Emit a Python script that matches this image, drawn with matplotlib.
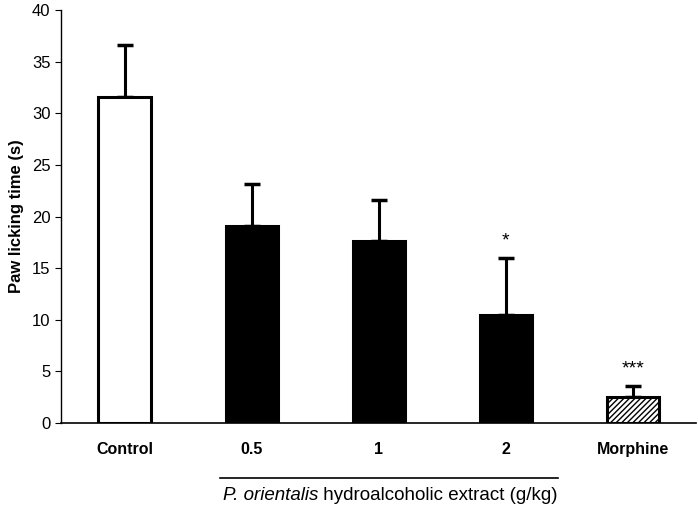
import matplotlib
matplotlib.use("Agg")
import matplotlib.pyplot as plt

categories = ["Control", "0.5", "1", "2", "Morphine"]
means = [31.6, 19.1, 17.6, 10.5, 2.5]
sems = [5.0, 4.1, 4.0, 5.5, 1.1]
signif = ["", "", "", "*", "***"]
yticks = [0, 5, 10, 15, 20, 25, 30, 35, 40]

plt.rcParams['font.family'] = ['Liberation Sans', 'DejaVu Sans']
plt.rcParams['hatch.linewidth'] = 1.0

fig = plt.figure(figsize=(6.98, 5.12), dpi=100)
ax = fig.add_axes([0.0874, 0.174, 0.910, 0.806])

x = list(range(len(categories)))
faces = ["white", "black", "black", "black", "white"]
hatches = [None, None, None, None, "//////"]
for xi, m, s, fc, h in zip(x, means, sems, faces, hatches):
    ax.bar(xi, m, width=0.41, color=fc, edgecolor="black", linewidth=2.2, hatch=h, zorder=2)
    ax.errorbar(xi, m, yerr=[[0], [s]], fmt="none", ecolor="black", elinewidth=2.2,
                capsize=6, capthick=2.5, zorder=1)

for xi, m, s, t in zip(x, means, sems, signif):
    if t:
        ax.text(xi, m + s + 0.8, t, ha="center", va="bottom", fontsize=14)

ax.set_xlim(-0.5, 4.5)
ax.set_ylim(0, 40)
ax.set_yticks(yticks)
ax.set_yticklabels([str(v) for v in yticks], fontsize=12)
ax.set_xticks(x)
ax.set_xticklabels(categories, fontsize=11.5, fontweight="bold")
ax.tick_params(axis="x", length=0, pad=14)
ax.tick_params(axis="y", length=4, direction="out")
for sp in ["top", "right"]:
    ax.spines[sp].set_visible(False)
ax.spines["left"].set_linewidth(1.0)
ax.spines["bottom"].set_linewidth(1.2)
ax.set_ylabel("Paw licking time (s)", fontsize=12, fontweight="bold", labelpad=6)

# group line and label
fig.add_artist(plt.Line2D([220/698, 558/698], [1-478/512, 1-478/512], color="black", linewidth=1.2))

part1 = "P. orientalis"
part2 = " hydroalcoholic extract (g/kg)"
fs = 13.5
t1 = fig.text(0, 1-496/512, part1, ha="left", va="center", fontsize=fs, style="italic")
t2 = fig.text(0, 1-496/512, part2, ha="left", va="center", fontsize=fs)
fig.canvas.draw()
r = fig.canvas.get_renderer()
w1 = t1.get_window_extent(r).width
w2 = t2.get_window_extent(r).width
W = fig.bbox.width
start = 390 - (w1 + w2) / 2
t1.set_x(start / W)
t2.set_x((start + w1) / W)

fig.savefig("out.png", dpi=100)
